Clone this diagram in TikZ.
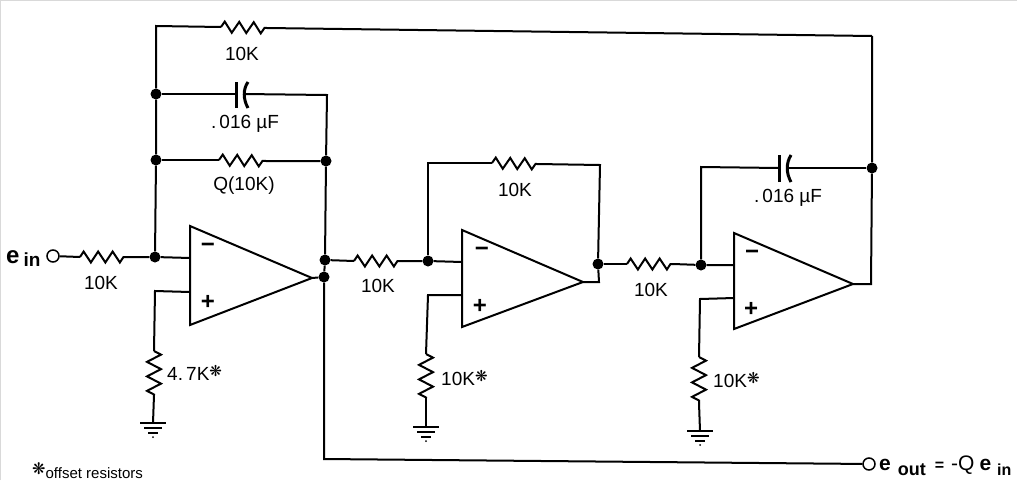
\documentclass[tikz,border=0pt]{standalone}
\usepackage{fontspec}
\usepackage{tikz}
\usepackage{xcolor}
\usetikzlibrary{decorations.pathmorphing}
\setmainfont{Liberation Sans}
\newfontfamily\starfont{DejaVu Sans}
\newcommand{\offstar}[1]{\raisebox{4pt}{\starfont\fontsize{#1}{#1}\selectfont ❋}}
\tikzset{
    wire/.style = {line width=2pt, line join=miter},
    res/.style = {wire, decorate, decoration={zigzag, amplitude=5.5pt, segment length=14.5pt}},
    vres/.style = {wire, decorate, decoration={zigzag, amplitude=7pt, segment length=14.5pt}},
    dot/.style = {circle, fill=black, inner sep=0pt, minimum size=11pt},
    term/.style = {circle, draw, fill=white, line width=1.5pt, inner sep=0pt, minimum size=12pt},
    val/.style = {font=\fontsize{19}{19}\selectfont, inner sep=0pt},
    sign/.style = {font=\bfseries\fontsize{24}{24}\selectfont, inner sep=0pt},
    plate/.style = {line width=3pt},
}
% op amp: left edge x, top y, bottom y, tip x, tip y
\newcommand{\opamp}[6]{
    \coordinate (#1-a) at (#2,#3);
    \coordinate (#1-b) at (#2,#4);
    \coordinate (#1-out) at (#5,#6);
    \draw[wire] (#1-a) -- (#1-out) -- (#1-b) -- cycle;
}
% ground symbol hanging under a named point
\newcommand{\gnd}[1]{
    \draw[wire] ([xshift=-13pt]#1) -- ([xshift=13pt]#1);
    \draw[line width=1.5pt] ([xshift=-9pt,yshift=-5pt]#1) -- ([xshift=9pt,yshift=-5pt]#1);
    \draw[line width=1.5pt] ([xshift=-5pt,yshift=-10pt]#1) -- ([xshift=5pt,yshift=-10pt]#1);
    \fill ([yshift=-14pt]#1) circle (1pt);
}
\begin{document}
\begin{tikzpicture}[x=1pt,y=-1pt]
\useasboundingbox (0,0) rectangle (1017,480);
\draw[black!15, line width=1pt] (0.5,480) -- (0.5,0.5) -- (1017,0.5);

% first stage
\opamp{oa1}{190}{226}{325}{312}{278}
\node[sign] (oa1m) at (208,248) {\textminus};
\node[sign] (oa1p) at (208,302) {+};
\node[term] (in) at (53,256) {};
\node[dot] (j1) at (155,257) {};
\node[dot] (j2) at (156,160) {};
\node[dot] (j3) at (156,94) {};
\node[dot] (j4) at (326,161) {};
\node[dot] (j5) at (325,260) {};
\node[dot] (j6) at (324,277) {};
\coordinate (tl) at (156,26);
\coordinate (tr) at (872,36);
\coordinate (cr) at (327,95);
\coordinate (oa1minus) at (190,258);
\coordinate (oa1plus) at (190,292);
\coordinate (p1) at (155,291);
\coordinate (g1) at (153,423);
\coordinate (r1a) at (80,257);
\coordinate (r1b) at (127,257);
\coordinate (r2a) at (221,27);
\coordinate (r2b) at (267,28);
\coordinate (r3a) at (219,160);
\coordinate (r3b) at (266,161);
\coordinate (r4a) at (154,351);
\coordinate (r4b) at (154,395);
\coordinate (c1a) at (236,94);
\coordinate (c1b) at (244,94);
\draw[wire] (in) -- (r1a);
\draw[res] (r1a) -- (r1b);
\draw[wire] (r1b) -- (j1) -- (oa1minus);
\draw[wire] (j1) -- (j2) -- (j3) -- (tl) -- (r2a);
\draw[res] (r2a) -- (r2b);
\draw[wire] (r2b) -- (tr);
\draw[wire] (j3) -- (c1a);
\draw[wire] (c1b) -- (cr) -- (j4);
\draw[plate] ([yshift=-14pt]c1a) -- ([yshift=12pt]c1a);
\draw[plate] ([xshift=4pt,yshift=-14pt]c1b) .. controls ([xshift=-1pt,yshift=-5pt]c1b) and ([xshift=-1pt,yshift=5pt]c1b) .. ([xshift=4pt,yshift=12pt]c1b);
\draw[wire] (j2) -- (r3a);
\draw[res] (r3a) -- (r3b);
\draw[wire] (r3b) -- (j4) -- (j5) -- (j6) -- (oa1-out);
\draw[wire] (oa1plus) -- (p1) -- (r4a);
\draw[vres] (r4a) -- (r4b);
\draw[wire] (r4b) -- (g1);
\gnd{g1}
\node[val] (lr1) at (101,283) {10K};
\node[val] (lr2) at (242,54) {10K};
\node[val] (lc1) at (245,124) {.\,016 µF};
\node[val] (lr3) at (244,186) {Q(10K)};
\node[val, anchor=west] (lr4) at (167,373) {4.\,7K\offstar{15}};

% second stage
\opamp{oa2}{462}{230}{327}{583}{282}
\node[sign] (oa2m) at (482,252) {\textminus};
\node[sign] (oa2p) at (480,306) {+};
\node[dot] (j7) at (428,261) {};
\node[dot] (j8) at (598,264) {};
\coordinate (oa2minus) at (462,262);
\coordinate (oa2plus) at (462,295);
\coordinate (p2) at (428,295);
\coordinate (f2a) at (428,163);
\coordinate (f2b) at (600,165);
\coordinate (o2) at (599,282);
\coordinate (g2) at (426,427);
\coordinate (r5a) at (354,261);
\coordinate (r5b) at (402,261);
\coordinate (r6a) at (492,163);
\coordinate (r6b) at (537,164);
\coordinate (r7a) at (426,354);
\coordinate (r7b) at (426,398);
\draw[wire] (j5) -- (r5a);
\draw[res] (r5a) -- (r5b);
\draw[wire] (r5b) -- (j7) -- (oa2minus);
\draw[wire] (j7) -- (f2a) -- (r6a);
\draw[res] (r6a) -- (r6b);
\draw[wire] (r6b) -- (f2b) -- (j8) -- (o2) -- (oa2-out);
\draw[wire] (oa2plus) -- (p2) -- (r7a);
\draw[vres] (r7a) -- (r7b);
\draw[wire] (r7b) -- (g2);
\gnd{g2}
\node[val] (lr5) at (378,286) {10K};
\node[val] (lr6) at (515,190) {10K};
\node[val, anchor=west] (lr7) at (441,378) {10K\offstar{15}};

% third stage
\opamp{oa3}{734}{233}{329}{853}{284}
\node[sign] (oa3m) at (752,255) {\textminus};
\node[sign] (oa3p) at (751,309) {+};
\node[dot] (j9) at (701,265) {};
\node[dot] (j10) at (872,168) {};
\coordinate (oa3minus) at (734,265);
\coordinate (oa3plus) at (734,298);
\coordinate (p3) at (700,299);
\coordinate (f3) at (701,167);
\coordinate (o3) at (871,284);
\coordinate (g3) at (700,431);
\coordinate (r8a) at (627,264);
\coordinate (r8b) at (673,264);
\coordinate (r9a) at (699,357);
\coordinate (r9b) at (699,403);
\coordinate (c2a) at (779,168);
\coordinate (c2b) at (787,168);
\draw[wire] (j8) -- (r8a);
\draw[res] (r8a) -- (r8b);
\draw[wire] (r8b) -- (j9) -- (oa3minus);
\draw[wire] (j9) -- (f3) -- (c2a);
\draw[wire] (c2b) -- (j10);
\draw[plate] ([yshift=-14pt]c2a) -- ([yshift=13pt]c2a);
\draw[plate] ([xshift=4pt,yshift=-14pt]c2b) .. controls ([xshift=-1pt,yshift=-5pt]c2b) and ([xshift=-1pt,yshift=5pt]c2b) .. ([xshift=4pt,yshift=13pt]c2b);
\draw[wire] (tr) -- (j10) -- (o3) -- (oa3-out);
\draw[wire] (oa3plus) -- (p3) -- (r9a);
\draw[vres] (r9a) -- (r9b);
\draw[wire] (r9b) -- (g3);
\gnd{g3}
\node[val] (lr8) at (651,290) {10K};
\node[val] (lc2) at (788,198) {.\,016 µF};
\node[val, anchor=west] (lr9) at (713,380) {10K\offstar{15}};

% input, output
\node[term] (out) at (869,464) {};
\coordinate (b1) at (324,459);
\draw[wire] (j6) -- (b1) -- (out);
\node[font=\bfseries\fontsize{24}{24}\selectfont, inner sep=0pt, anchor=base west] (ein) at (6,263) {e\,\fontsize{19}{19}\selectfont\raisebox{-3pt}{in}};
\node[font=\bfseries\fontsize{21}{21}\selectfont, inner sep=0pt, anchor=base west] (eout) at (879,470) {e\hspace{7pt}{\fontsize{18}{18}\selectfont\raisebox{-5pt}{out}}\hspace{9pt}{\fontsize{16}{16}\selectfont=}\hspace{7pt}{\mdseries -Q}\hspace{5pt}e\hspace{6pt}{\fontsize{16}{16}\selectfont\raisebox{-5pt}{in}}};
\node[font=\fontsize{15}{15}\selectfont, inner sep=0pt, anchor=base west] (note) at (32,478) {\offstar{16}offset resistors};
\end{tikzpicture}
\end{document}
